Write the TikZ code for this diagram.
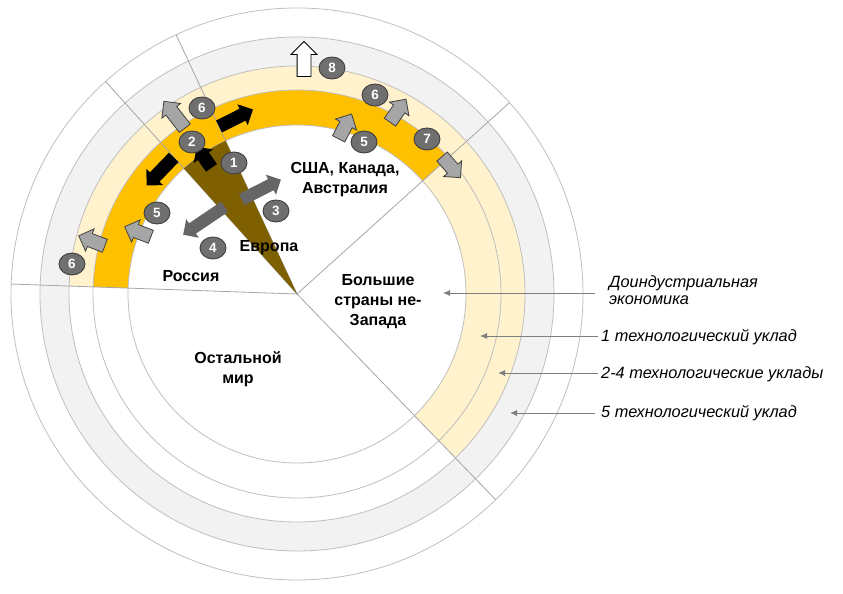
\documentclass[tikz,border=0pt]{standalone}
\usepackage{fontspec}
\setmainfont{Liberation Sans}
\usetikzlibrary{shapes.geometric,shapes.arrows,arrows.meta}
\definecolor{orng}{HTML}{FFC000}
\definecolor{lyel}{HTML}{FFF2CC}
\definecolor{lgry}{HTML}{F2F2F2}
\definecolor{circc}{HTML}{BFBFBF}
\definecolor{secl}{HTML}{A6A6A6}
\definecolor{wedgec}{HTML}{7F6000}
\definecolor{badgef}{HTML}{6F6F6F}
\definecolor{badged}{HTML}{404040}
\definecolor{garr}{HTML}{A6A6A6}
\definecolor{darr}{HTML}{666666}
\definecolor{legc}{HTML}{7F7F7F}
\begin{document}
\begin{tikzpicture}[x=1pt,y=1pt,
  badge/.style={ellipse, fill=badgef, draw=badged, line width=0.9pt,
    minimum width=26pt, minimum height=22pt, inner sep=0pt, text=white,
    font=\fontsize{13.5}{13.5}\selectfont\bfseries},
  blockarrow/.style={single arrow, inner xsep=0pt, inner ysep=6.5pt,
    minimum width=0pt, single arrow head extend=5pt, single arrow tip angle=90,
    anchor=center},
  blackarr/.style={blockarrow, fill=black},
  grayarr/.style={blockarrow, fill=garr, draw=badged, line width=0.8pt},
  whitearr/.style={blockarrow, fill=white, draw=black, line width=0.8pt, inner ysep=6.5pt, single arrow head extend=6pt},
  darkarr/.style={blockarrow, fill=darr, inner ysep=6pt, single arrow head extend=5pt},
  region/.style={font=\fontsize{16}{20}\selectfont\bfseries, align=center, inner sep=0pt},
  legend/.style={font=\fontsize{16.3}{17}\selectfont\itshape, align=left, anchor=west, inner sep=0pt},
  legarr/.style={legc, line width=0.9pt, -{Latex[length=7pt,width=6pt]}},
  ringline/.style={circc, line width=0.8pt},
  secline/.style={secl, line width=0.8pt}
]
\useasboundingbox (0,0) rectangle (843,594);
\fill[white] (0,0) rectangle (843,594);

\begin{scope}[shift={(297,300)}]
  \coordinate (O) at (0,0);
  % 5th wave ring
  \fill[lgry, even odd rule] (0,0) circle[radius=257] (0,0) circle[radius=228];
  % 2-4 waves ring
  \fill[lyel] (-46:204) arc[start angle=-46, end angle=178, radius=204]
     -- (178:228) arc[start angle=178, end angle=-46, radius=228] -- cycle;
  % 1st wave ring
  \fill[lyel] (-46:169) arc[start angle=-46, end angle=42, radius=169]
     -- (42:204) arc[start angle=42, end angle=-46, radius=204] -- cycle;
  \fill[orng] (42:169) arc[start angle=42, end angle=178, radius=169]
     -- (178:204) arc[start angle=178, end angle=42, radius=204] -- cycle;
  % circles
  \foreach \r in {169,204,228,257,286}
    \draw[ringline] (0,0) circle[radius=\r];
  % sector lines
  \foreach \a in {42,-46,178,115,132}
    \draw[secline] (0,0) -- (\a:286);
  % Europe wedge
  \fill[wedgec] (0,0) -- (115:169) arc[start angle=115, end angle=132, radius=169] -- cycle;
\end{scope}

% region labels
\node[region] (usa) at (345,414) {США, Канада,\\Австралия};
\node[region] (eur) at (269,346) {Европа};
\node[region] (rus) at (191,318) {Россия};
\node[region] (big) at (378,292) {Большие\\страны не-\\Запада};
\node[region] (rest) at (238,225) {Остальной\\мир};

% block arrows
\node[blackarr, rotate=125, minimum height=26pt] (b1) at (206,434) {};
\node[blackarr, rotate=26.6, minimum height=38pt] (b2) at (233,474.5) {};
\node[blackarr, rotate=226, minimum height=39pt] (b3) at (162.5,425) {};
\node[grayarr, rotate=128, minimum height=34pt] (g6a) at (176.5,476.5) {};
\node[grayarr, rotate=159, minimum height=28pt] (g5a) at (141,361) {};
\node[grayarr, rotate=159, minimum height=28pt] (g6b) at (95,352) {};
\node[grayarr, rotate=62.5, minimum height=28pt] (g5b) at (343.5,464.5) {};
\node[grayarr, rotate=55, minimum height=28pt] (g6c) at (396,480.5) {};
\node[grayarr, rotate=-49, minimum height=28pt] (g7) at (449,429.5) {};
\node[whitearr, rotate=90, minimum height=35pt] (w8) at (304,531.5) {};
\node[darkarr, rotate=27, minimum height=44pt] (d3) at (258.5,403) {};
\node[darkarr, rotate=214, minimum height=50pt] (d4) at (206.5,375) {};

% badges
\node[badge] (n1) at (234,431) {1};
\node[badge] (n2) at (192,452) {2};
\node[badge] (n6a) at (202,486) {6};
\node[badge] (n5a) at (157,381) {5};
\node[badge] (n6b) at (72,330) {6};
\node[badge] (n3) at (276,383) {3};
\node[badge] (n4) at (213,346) {4};
\node[badge] (n8) at (332,526) {8};
\node[badge] (n6c) at (375,499) {6};
\node[badge] (n5b) at (364,452) {5};
\node[badge] (n7) at (427,455) {7};

% legend
\node[legend] (leg0) at (609,304) {Доиндустриальная\\экономика};
\node[legend] (leg1) at (601,257) {1 технологический уклад};
\node[legend] (leg2) at (601,220) {2-4 технологические уклады};
\node[legend] (leg3) at (601,181) {5 технологический уклад};
\coordinate (t0) at (443,301);
\coordinate (t1) at (480,258);
\coordinate (t2) at (498,221);
\coordinate (t3) at (510,181);
\draw[legarr] ([xshift=-14pt]leg0.west |- t0) -- (t0);
\draw[legarr] ([xshift=-3pt]leg1.west |- t1) -- (t1);
\draw[legarr] ([xshift=-3pt]leg2.west |- t2) -- (t2);
\draw[legarr] ([xshift=-6pt]leg3.west |- t3) -- (t3);
\end{tikzpicture}
\end{document}
